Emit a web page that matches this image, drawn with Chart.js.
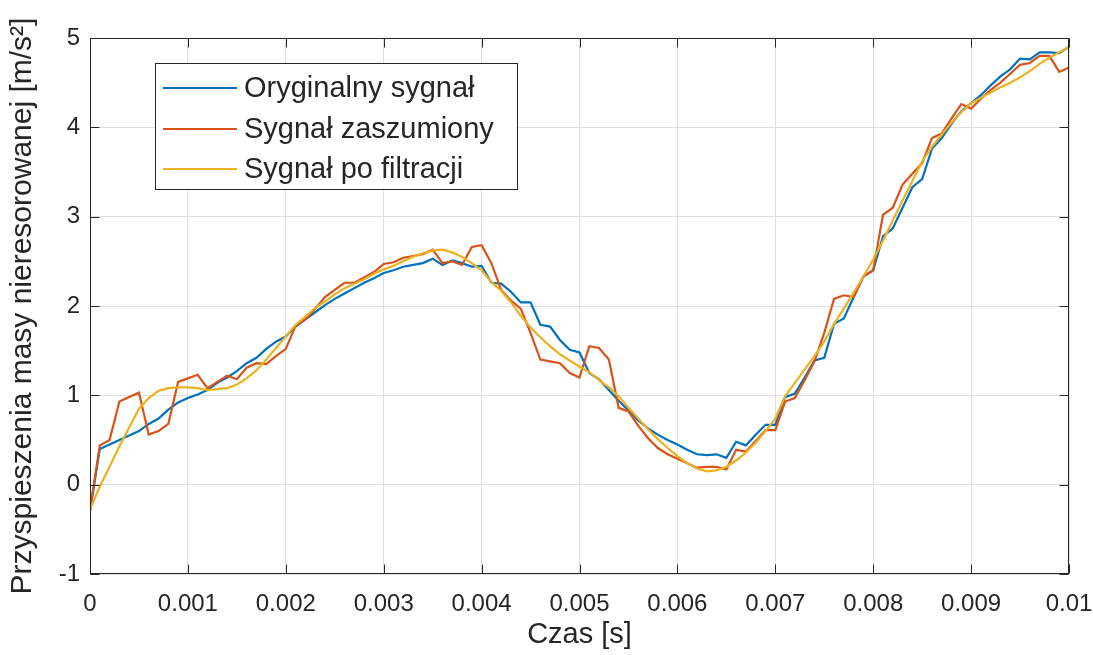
<!DOCTYPE html>
<html>
<head>
<meta charset="utf-8">
<script src="https://cdn.jsdelivr.net/npm/chart.js@4.4.1/dist/chart.umd.min.js"></script>
<style>
  html, body { margin: 0; padding: 0; background: #ffffff; }
  #wrap { width: 1093px; height: 655px; position: relative; }
</style>
</head>
<body>
<div id="wrap"><canvas id="c" width="1093" height="655"></canvas></div>
<script>
// Sample times [s]
const time = [
  0, 0.0001, 0.0002, 0.0003, 0.0004, 0.0005, 0.0006, 0.0007, 0.0008, 0.0009,
  0.0010, 0.0011, 0.0012, 0.0013, 0.0014, 0.0015, 0.0016, 0.0017, 0.0018, 0.0019,
  0.0020, 0.0021, 0.0022, 0.0023, 0.0024, 0.0025, 0.0026, 0.0027, 0.0028, 0.0029,
  0.0030, 0.0031, 0.0032, 0.0033, 0.0034, 0.0035, 0.0036, 0.0037, 0.0038, 0.0039,
  0.0040, 0.0041, 0.0042, 0.0043, 0.0044, 0.0045, 0.0046, 0.0047, 0.0048, 0.0049,
  0.0050, 0.0051, 0.0052, 0.0053, 0.0054, 0.0055, 0.0056, 0.0057, 0.0058, 0.0059,
  0.0060, 0.0061, 0.0062, 0.0063, 0.0064, 0.0065, 0.0066, 0.0067, 0.0068, 0.0069,
  0.0070, 0.0071, 0.0072, 0.0073, 0.0074, 0.0075, 0.0076, 0.0077, 0.0078, 0.0079,
  0.0080, 0.0081, 0.0082, 0.0083, 0.0084, 0.0085, 0.0086, 0.0087, 0.0088, 0.0089,
  0.0090, 0.0091, 0.0092, 0.0093, 0.0094, 0.0095, 0.0096, 0.0097, 0.0098, 0.0099,
  0.0100
];

// Original signal [m/s^2]
const originalSignal = [
  -0.30, 0.40, 0.45, 0.50, 0.55, 0.60, 0.68, 0.74, 0.84, 0.92,
  0.97, 1.01, 1.06, 1.14, 1.20, 1.27, 1.36, 1.42, 1.52, 1.60,
  1.66, 1.77, 1.85, 1.93, 2.01, 2.08, 2.14, 2.20, 2.26, 2.31,
  2.37, 2.40, 2.44, 2.46, 2.48, 2.53, 2.46, 2.51, 2.48, 2.44,
  2.45, 2.26, 2.25, 2.16, 2.04, 2.04, 1.79, 1.77, 1.62, 1.51,
  1.48, 1.25, 1.18, 1.06, 0.94, 0.83, 0.72, 0.63, 0.56, 0.50,
  0.45, 0.39, 0.34, 0.33, 0.34, 0.30, 0.48, 0.44, 0.56, 0.67,
  0.67, 0.98, 1.02, 1.20, 1.39, 1.42, 1.80, 1.86, 2.10, 2.33,
  2.40, 2.78, 2.87, 3.10, 3.33, 3.42, 3.76, 3.88, 4.04, 4.18,
  4.27, 4.36, 4.47, 4.57, 4.65, 4.77, 4.76, 4.84, 4.84, 4.83,
  4.90
];

// Noisy signal [m/s^2]
const noisySignal = [
  -0.28, 0.44, 0.50, 0.93, 0.98, 1.03, 0.56, 0.60, 0.68, 1.15,
  1.19, 1.23, 1.08, 1.15, 1.22, 1.18, 1.31, 1.36, 1.35, 1.44,
  1.52, 1.78, 1.85, 1.97, 2.10, 2.18, 2.26, 2.26, 2.32, 2.38,
  2.47, 2.49, 2.54, 2.56, 2.58, 2.63, 2.48, 2.50, 2.46, 2.66,
  2.68, 2.48, 2.18, 2.06, 1.97, 1.70, 1.40, 1.38, 1.36, 1.25,
  1.20, 1.55, 1.53, 1.40, 0.86, 0.82, 0.66, 0.52, 0.41, 0.34,
  0.29, 0.24, 0.19, 0.20, 0.20, 0.17, 0.39, 0.37, 0.49, 0.61,
  0.61, 0.93, 0.97, 1.17, 1.38, 1.70, 2.08, 2.12, 2.10, 2.33,
  2.40, 3.02, 3.10, 3.36, 3.48, 3.60, 3.88, 3.93, 4.10, 4.26,
  4.21, 4.32, 4.42, 4.50, 4.60, 4.70, 4.72, 4.80, 4.80, 4.62,
  4.67
];

// Filtered signal [m/s^2]
const filteredSignal = [
  -0.28, -0.02, 0.20, 0.43, 0.64, 0.85, 0.97, 1.05, 1.08, 1.09,
  1.09, 1.08, 1.06, 1.07, 1.08, 1.12, 1.19, 1.28, 1.40, 1.53,
  1.66, 1.79, 1.88, 1.98, 2.05, 2.13, 2.20, 2.25, 2.30, 2.36,
  2.41, 2.45, 2.50, 2.55, 2.59, 2.62, 2.63, 2.60, 2.55, 2.48,
  2.40, 2.27, 2.17, 2.04, 1.89, 1.76, 1.65, 1.55, 1.46, 1.39,
  1.32, 1.26, 1.17, 1.09, 0.99, 0.86, 0.74, 0.62, 0.51, 0.41,
  0.32, 0.24, 0.18, 0.15, 0.16, 0.20, 0.27, 0.36, 0.47, 0.60,
  0.74, 0.99, 1.14, 1.29, 1.44, 1.60, 1.80, 1.97, 2.15, 2.33,
  2.52, 2.73, 2.96, 3.18, 3.40, 3.62, 3.78, 3.92, 4.05, 4.17,
  4.27, 4.33, 4.39, 4.45, 4.50, 4.56, 4.63, 4.71, 4.78, 4.84,
  4.90
];

// Tick positions and labels
const xTickValues = [0, 0.001, 0.002, 0.003, 0.004, 0.005, 0.006, 0.007, 0.008, 0.009, 0.01];
const xTickLabels = ['0', '0.001', '0.002', '0.003', '0.004', '0.005', '0.006', '0.007', '0.008', '0.009', '0.01'];
const yTickValues = [-1, 0, 1, 2, 3, 4, 5];
const yTickLabels = ['-1', '0', '1', '2', '3', '4', '5'];

const seriesNames = ['Oryginalny sygnał', 'Sygnał zaszumiony', 'Sygnał po filtracji'];
const seriesColors = ['#0072BD', '#D95319', '#EDB120'];

const FONT = "'Liberation Sans', Arial, Helvetica, sans-serif";
const TEXT = '#262626';
const AXIS = '#262626';
const GRID = '#dfdfdf';

function pts(ys) { return time.map((t, i) => ({ x: t, y: ys[i] })); }

// Axes box with inward ticks on all four sides, plus the boxed legend
const framePlugin = {
  id: 'frame',
  afterDatasetsDraw(chart) {
    const { ctx, chartArea: a, scales } = chart;
    const L = Math.round(a.left) + 0.5, R = Math.round(a.right) - 0.5;
    const T = Math.round(a.top) + 0.5, B = Math.round(a.bottom) - 0.5;
    const tl = 9;
    ctx.save();
    ctx.strokeStyle = AXIS;
    ctx.lineWidth = 1;
    ctx.strokeRect(L, T, R - L, B - T);
    ctx.beginPath();
    yTickValues.forEach(v => {
      const y = Math.round(scales.y.getPixelForValue(v)) + 0.5;
      ctx.moveTo(L, y); ctx.lineTo(L + tl, y);
      ctx.moveTo(R, y); ctx.lineTo(R - tl, y);
    });
    xTickValues.forEach(v => {
      const x = Math.round(scales.x.getPixelForValue(v)) + 0.5;
      ctx.moveTo(x, B); ctx.lineTo(x, B - tl);
      ctx.moveTo(x, T); ctx.lineTo(x, T + tl);
    });
    ctx.stroke();

    // legend
    const bx = 155.5, by = 63.5, bw = 362, bh = 126;
    ctx.fillStyle = '#ffffff';
    ctx.fillRect(bx, by, bw, bh);
    ctx.strokeStyle = AXIS;
    ctx.strokeRect(bx, by, bw, bh);
    const rows = [88, 129, 169];
    ctx.font = '29px ' + FONT;
    ctx.textBaseline = 'middle';
    ctx.textAlign = 'left';
    seriesNames.forEach((name, i) => {
      ctx.strokeStyle = seriesColors[i];
      ctx.lineWidth = 2;
      ctx.beginPath();
      ctx.moveTo(163, rows[i]);
      ctx.lineTo(237, rows[i]);
      ctx.stroke();
      ctx.fillStyle = TEXT;
      ctx.fillText(name, 244, rows[i] + 1);
    });
    ctx.restore();
  }
};

const datasets = [originalSignal, noisySignal, filteredSignal].map((ys, i) => ({
  label: seriesNames[i],
  data: pts(ys),
  borderColor: seriesColors[i],
  backgroundColor: seriesColors[i],
  borderWidth: 2.2,
  pointRadius: 0,
  tension: 0,
  fill: false,
  order: 3 - i
}));

new Chart(document.getElementById('c'), {
  type: 'line',
  data: { datasets },
  options: {
    responsive: false,
    animation: false,
    devicePixelRatio: 1,
    layout: { padding: { top: 38, right: 24, left: 0, bottom: 0 } },
    plugins: { legend: { display: false }, tooltip: { enabled: false } },
    scales: {
      x: {
        type: 'linear',
        min: 0, max: 0.01,
        afterBuildTicks: s => { s.ticks = xTickValues.map(v => ({ value: v })); },
        afterFit: s => { s.height = 81; s.paddingLeft = 0; s.paddingRight = 0; },
        grid: { color: GRID, lineWidth: 1, drawTicks: false },
        border: { display: false },
        ticks: {
          font: { family: FONT, size: 24 },
          color: TEXT,
          padding: 16,
          maxRotation: 0,
          autoSkip: false,
          callback: (v, i) => xTickLabels[i]
        },
        title: {
          display: true,
          text: 'Czas [s]',
          font: { family: FONT, size: 29 },
          color: TEXT,
          padding: { top: 0, bottom: 3 }
        }
      },
      y: {
        type: 'linear',
        min: -1, max: 5,
        afterBuildTicks: s => { s.ticks = yTickValues.map(v => ({ value: v })); },
        afterFit: s => { s.width = 90; s.paddingTop = 0; s.paddingBottom = 0; },
        grid: { color: GRID, lineWidth: 1, drawTicks: false },
        border: { display: false },
        ticks: {
          font: { family: FONT, size: 24 },
          color: TEXT,
          padding: 10,
          autoSkip: false,
          callback: (v, i) => yTickLabels[i]
        },
        title: {
          display: true,
          text: 'Przyspieszenia masy nieresorowanej [m/s²]',
          font: { family: FONT, size: 30 },
          color: TEXT,
          padding: { top: 5, bottom: 0 }
        }
      }
    }
  },
  plugins: [framePlugin]
});
</script>
</body>
</html>
